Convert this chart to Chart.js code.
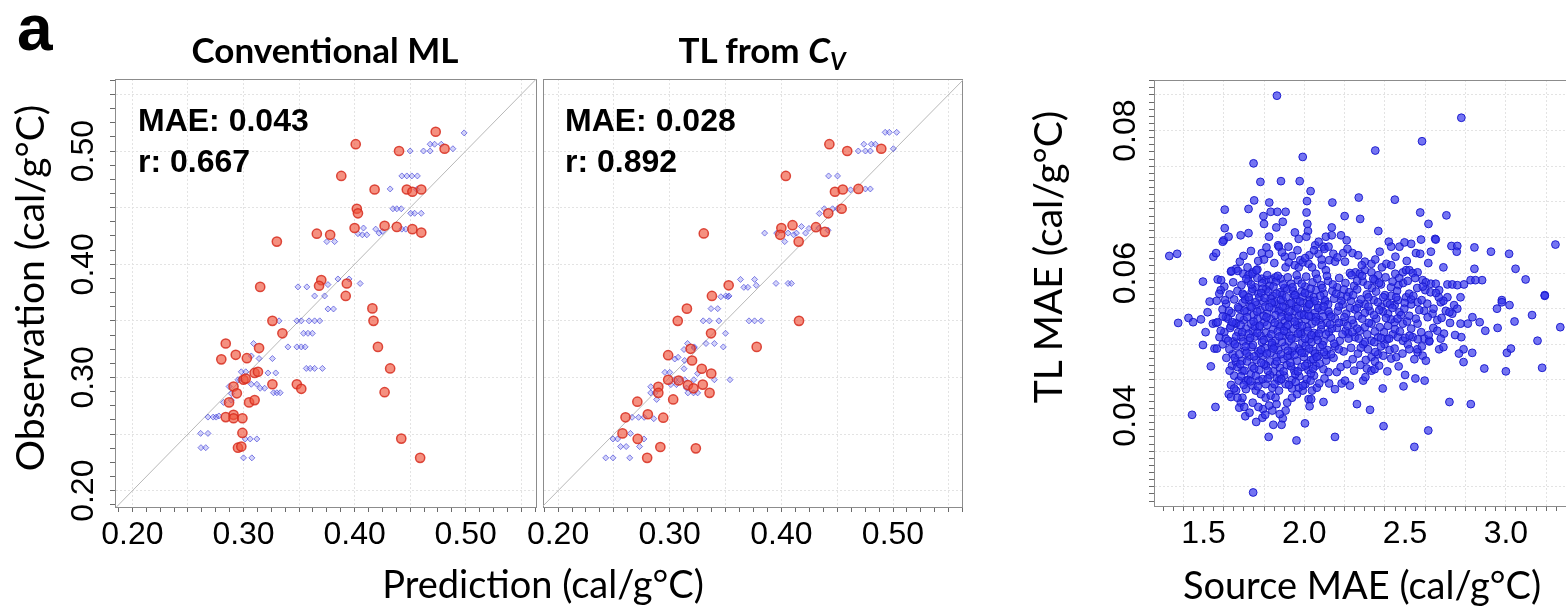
<!DOCTYPE html>
<html><head><meta charset="utf-8">
<script src="https://cdn.jsdelivr.net/npm/chart.js@4.4.1/dist/chart.umd.min.js"></script>
<style>
html,body{margin:0;padding:0;background:#fff;overflow:hidden;}
#wrap{position:relative;width:1566px;height:608px;overflow:hidden;background:#fff;}
canvas{position:absolute;}
.t{position:absolute;white-space:nowrap;color:#000;line-height:1;}
.cal{font-family:Lato,"Open Sans",sans-serif;}
.ari{font-family:"Liberation Sans",Arial,sans-serif;font-weight:bold;}
</style></head><body>
<div id="wrap">
<canvas id="p1" width="543" height="608" style="left:0;top:0"></canvas>
<canvas id="p2" width="526" height="608" style="left:443px;top:0"></canvas>
<canvas id="p3" width="591" height="608" style="left:1000px;top:0"></canvas>

<div class="t ari" style="left:17px;top:-4px;font-size:64px;">a</div>
<div class="t cal" style="left:125px;width:400px;text-align:center;top:32px;font-size:35px;font-weight:bold;">Conventional ML</div>
<div class="t cal" style="left:562px;width:400px;text-align:center;top:32px;font-size:35px;font-weight:bold;">TL from <i>C<sub style="font-size:24px;vertical-align:-7px;">V</sub></i></div>
<div class="t ari" style="left:138px;top:104px;font-size:32px;" id="m1a"></div>
<div class="t ari" style="left:138px;top:145px;font-size:32px;" id="m1b"></div>
<div class="t ari" style="left:565px;top:104px;font-size:32px;" id="m2a"></div>
<div class="t ari" style="left:565px;top:145px;font-size:32px;" id="m2b"></div>
<div class="t cal" style="left:243px;width:600px;text-align:center;top:564px;font-size:38px;">Prediction (cal/g°C)</div>
<div class="t cal" style="left:1062px;width:600px;text-align:center;top:565px;font-size:38px;">Source MAE (cal/g°C)</div>
<div class="t cal" style="left:-271px;width:600px;text-align:center;top:269px;font-size:39px;transform:rotate(-90deg);transform-origin:300px 19px;">Observation (cal/g°C)</div>
<div class="t cal" style="left:747px;width:600px;text-align:center;top:238px;font-size:39px;transform:rotate(-90deg);transform-origin:300px 19px;">TL MAE (cal/g°C)</div>
</div>
<script>
// ---------------- data ----------------
const panelStats = [["MAE: 0.043", "r: 0.667"], ["MAE: 0.028", "r: 0.892"]];

// Conventional ML: [prediction, observation]
const convTest = [[0.473,0.517],[0.401,0.506],[0.440,0.500],[0.481,0.502],[0.388,0.478],[0.418,0.466],[0.447,0.466],[0.452,0.464],[0.460,0.466],[0.402,0.449],[0.403,0.445],[0.366,0.427],[0.378,0.426],[0.400,0.432],[0.427,0.434],[0.438,0.433],[0.452,0.431],[0.460,0.428],[0.330,0.420],[0.315,0.380],[0.370,0.386],[0.368,0.381],[0.393,0.383],[0.392,0.372],[0.416,0.361],[0.417,0.350],[0.421,0.327],[0.432,0.308],[0.427,0.287],[0.442,0.246],[0.459,0.229],[0.326,0.350],[0.335,0.339],[0.284,0.330],[0.314,0.326],[0.293,0.320],[0.280,0.316],[0.303,0.317],[0.300,0.298],[0.302,0.299],[0.310,0.304],[0.313,0.305],[0.326,0.294],[0.348,0.294],[0.352,0.290],[0.291,0.292],[0.294,0.286],[0.287,0.278],[0.305,0.278],[0.310,0.280],[0.284,0.265],[0.291,0.267],[0.291,0.264],[0.299,0.264],[0.299,0.251],[0.295,0.238],[0.298,0.239]];
const convTrain = [[0.4986,0.516],[0.468,0.506],[0.472,0.506],[0.478,0.506],[0.4885,0.502],[0.450,0.500],[0.462,0.500],[0.468,0.500],[0.4425,0.478],[0.447,0.478],[0.4515,0.478],[0.4565,0.478],[0.432,0.4665],[0.456,0.466],[0.4345,0.449],[0.438,0.449],[0.442,0.449],[0.4505,0.445],[0.454,0.445],[0.460,0.445],[0.408,0.432],[0.403,0.427],[0.407,0.426],[0.411,0.426],[0.419,0.431],[0.422,0.4275],[0.425,0.429],[0.4425,0.431],[0.446,0.431],[0.375,0.420],[0.382,0.420],[0.349,0.380],[0.357,0.380],[0.385,0.387],[0.395,0.387],[0.405,0.383],[0.376,0.382],[0.364,0.372],[0.373,0.372],[0.376,0.3605],[0.381,0.3605],[0.332,0.350],[0.348,0.350],[0.352,0.350],[0.359,0.350],[0.364,0.350],[0.3686,0.350],[0.354,0.339],[0.358,0.339],[0.362,0.339],[0.340,0.327],[0.348,0.327],[0.352,0.327],[0.3555,0.327],[0.309,0.330],[0.326,0.3167],[0.307,0.319],[0.314,0.3167],[0.3565,0.308],[0.360,0.308],[0.364,0.308],[0.371,0.308],[0.298,0.305],[0.302,0.305],[0.322,0.304],[0.329,0.304],[0.295,0.298],[0.297,0.298],[0.307,0.294],[0.312,0.294],[0.315,0.2905],[0.319,0.2905],[0.287,0.292],[0.289,0.2858],[0.327,0.2865],[0.330,0.2865],[0.333,0.2865],[0.282,0.278],[0.289,0.280],[0.268,0.265],[0.2727,0.265],[0.2754,0.265],[0.2778,0.266],[0.2614,0.2506],[0.268,0.2506],[0.2617,0.238],[0.266,0.238],[0.3015,0.2457],[0.306,0.2457],[0.312,0.2457],[0.300,0.229],[0.3075,0.229]];

// TL from Cv: [prediction, observation]
const tlTest = [[0.443,0.506],[0.459,0.500],[0.4895,0.502],[0.404,0.478],[0.448,0.464],[0.455,0.466],[0.469,0.4665],[0.442,0.445],[0.454,0.449],[0.410,0.4345],[0.400,0.432],[0.399,0.426],[0.4155,0.420],[0.431,0.4327],[0.439,0.4286],[0.3305,0.4272],[0.3528,0.3814],[0.3378,0.372],[0.3154,0.3608],[0.3072,0.350],[0.337,0.339],[0.4158,0.350],[0.3779,0.327],[0.2986,0.3197],[0.3187,0.3253],[0.320,0.315],[0.3287,0.3077],[0.3372,0.3035],[0.2986,0.298],[0.308,0.2973],[0.3163,0.2933],[0.3213,0.2904],[0.3296,0.2937],[0.3357,0.2864],[0.2898,0.2918],[0.2898,0.2864],[0.3031,0.2806],[0.271,0.2786],[0.2604,0.2648],[0.2804,0.2675],[0.2942,0.2645],[0.2577,0.2506],[0.2713,0.2457],[0.2916,0.2386],[0.3234,0.2374],[0.2798,0.229]];
const tlTrain = [[0.493,0.5165],[0.4967,0.5165],[0.5033,0.5165],[0.4739,0.506],[0.4806,0.506],[0.4842,0.506],[0.4689,0.500],[0.4753,0.500],[0.4797,0.500],[0.5003,0.502],[0.4423,0.478],[0.4503,0.478],[0.462,0.4657],[0.4753,0.4665],[0.4797,0.4665],[0.434,0.4448],[0.4385,0.449],[0.4459,0.449],[0.4503,0.449],[0.385,0.4275],[0.3958,0.4275],[0.406,0.4275],[0.4135,0.4275],[0.4217,0.4275],[0.418,0.4333],[0.4247,0.4316],[0.403,0.420],[0.411,0.426],[0.4418,0.430],[0.4335,0.432],[0.3634,0.3866],[0.3664,0.3796],[0.370,0.3796],[0.376,0.3866],[0.3775,0.3814],[0.3952,0.3831],[0.406,0.3831],[0.409,0.3831],[0.3502,0.372],[0.3531,0.372],[0.3458,0.3713],[0.3522,0.3713],[0.337,0.3608],[0.343,0.3608],[0.330,0.350],[0.3355,0.350],[0.344,0.350],[0.371,0.350],[0.376,0.350],[0.382,0.350],[0.350,0.339],[0.316,0.330],[0.322,0.327],[0.3325,0.330],[0.340,0.330],[0.348,0.327],[0.3128,0.3247],[0.322,0.326],[0.3045,0.3163],[0.3075,0.3178],[0.3134,0.315],[0.2957,0.3045],[0.300,0.3045],[0.3128,0.3077],[0.3045,0.298],[0.309,0.298],[0.3134,0.298],[0.3216,0.298],[0.325,0.3035],[0.340,0.298],[0.354,0.298],[0.301,0.2937],[0.306,0.2937],[0.315,0.2907],[0.283,0.2918],[0.283,0.2864],[0.2868,0.2864],[0.2883,0.2806],[0.3163,0.2864],[0.3213,0.2864],[0.325,0.2864],[0.2663,0.2648],[0.2721,0.2648],[0.2771,0.2648],[0.2857,0.2636],[0.2648,0.2506],[0.2492,0.2457],[0.2533,0.2457],[0.2769,0.2457],[0.256,0.239],[0.261,0.239],[0.273,0.239],[0.2427,0.229],[0.2492,0.229],[0.2642,0.229]];

const identityLine = [[0.15,0.15],[0.60,0.60]];

// TL MAE vs Source MAE: [source MAE, TL MAE]
const tlVsSource = [
[1.864,0.0849],[2.779,0.0818],[2.584,0.0785],[2.352,0.0772],[1.992,0.0763],[1.748,0.0754],[1.782,0.0728],[1.884,0.0729],[1.977,0.0729],[2.031,0.0715],[1.751,0.0702],[1.826,0.0699],[2.013,0.0701],[2.139,0.0699],[2.270,0.0706],[2.449,0.0703],[1.605,0.0689],[1.723,0.0690],[1.833,0.0686],[1.866,0.0686],[1.907,0.0686],[1.797,0.0680],[2.011,0.0685],[2.200,0.0680],[2.277,0.0676],[2.575,0.0685],[2.705,0.0681],[1.800,0.0669],[1.893,0.0672],[2.015,0.0669],[2.616,0.0669],[1.605,0.0663],[1.861,0.0664],[2.018,0.0659],[2.136,0.0664],[2.367,0.0659],[2.649,0.0648],
[1.600,0.0646],[1.624,0.0651],[1.684,0.0653],[1.723,0.0656],[1.825,0.0651],[1.870,0.0639],[1.953,0.0657],[1.972,0.0648],[2.010,0.0651],[2.054,0.0639],[2.071,0.0644],[2.107,0.0651],[2.136,0.0653],[2.095,0.0637],[2.182,0.0653],[2.210,0.0646],[1.330,0.0624],[1.369,0.0627],[1.549,0.0623],[1.562,0.0628],[1.595,0.0644],[1.680,0.0616],[1.636,0.0602],[1.661,0.0606],[1.718,0.0608],[1.743,0.0601],[1.767,0.0605],[1.789,0.0628],[1.825,0.0627],[1.800,0.0619],[1.874,0.0637],[1.903,0.0623],[1.939,0.0624],[1.980,0.0618],[2.025,0.0625],[2.070,0.0627],[2.100,0.0634],[2.120,0.0637],[2.144,0.0627],[2.239,0.0628],[2.267,0.0625],[2.300,0.0616],[2.333,0.0613],[2.374,0.0630],[2.419,0.0644],[2.431,0.0637],[2.472,0.0637],[2.497,0.0643],[2.530,0.0641],[2.579,0.0647],[2.652,0.0647],[2.554,0.0628],[2.575,0.0627],[2.628,0.0630],[2.730,0.0638],[2.759,0.0638],[2.756,0.0630],[2.844,0.0636],[2.926,0.0630],[3.016,0.0627],[3.246,0.0640],[2.844,0.0606],[3.048,0.0606],
[1.638,0.0603],[1.670,0.0603],[1.697,0.0599],[1.723,0.0597],[1.743,0.0599],[1.762,0.0604],[1.789,0.0592],[1.808,0.0590],[1.833,0.0591],[1.857,0.0594],[1.882,0.0592],[1.907,0.0608],[1.923,0.0615],[1.952,0.0611],[1.972,0.0608],[1.992,0.0615],[2.021,0.0613],[2.038,0.0608],[2.057,0.0599],[2.087,0.0611],[2.107,0.0604],[2.123,0.0618],[2.152,0.0616],[2.193,0.0628],[2.202,0.0616],[2.226,0.0600],[2.254,0.0601],[2.275,0.0599],[2.300,0.0604],[2.333,0.0601],[2.349,0.0590],[2.366,0.0597],[2.385,0.0608],[2.407,0.0613],[2.431,0.0611],[2.451,0.0599],[2.467,0.0583],[2.489,0.0601],[2.505,0.0604],[2.521,0.0604],[2.538,0.0600],[2.562,0.0601],[2.587,0.0590],[2.603,0.0587],[2.628,0.0585],[2.652,0.0585],[2.669,0.0576],[2.710,0.0584],[2.734,0.0584],[2.759,0.0583],[2.792,0.0584],[2.825,0.0590],[2.882,0.0590],[2.849,0.0590],[2.980,0.0562],[3.098,0.0591],[3.193,0.0569],[1.497,0.0588],[1.570,0.0591],[1.587,0.0590],
[1.374,0.0530],[1.425,0.0537],[1.448,0.0531],[1.530,0.0560],[1.510,0.0517],[1.546,0.0529],[1.562,0.0530],[1.497,0.0499],[1.554,0.0494],[1.566,0.0494],[1.536,0.0469],[1.611,0.0538],[1.636,0.0526],[1.661,0.0529],[1.603,0.0517],[1.579,0.0510],[1.595,0.0500],[1.644,0.0486],[1.641,0.0470],[1.652,0.0456],[1.636,0.0443],[1.625,0.0430],[1.636,0.0426],[1.661,0.0435],[1.685,0.0418],[1.707,0.0399],[1.677,0.0411],[1.693,0.0425],[1.710,0.0437],[1.743,0.0442],[1.759,0.0435],[1.784,0.0430],[1.808,0.0425],[1.833,0.0428],[1.857,0.0425],[1.874,0.0435],[1.893,0.0396],[1.841,0.0407],[1.795,0.0409],[1.761,0.0391],[1.792,0.0397],[1.846,0.0387],[1.887,0.0387],[1.907,0.0407],[1.915,0.0418],[1.939,0.0425],[1.964,0.0430],[1.992,0.0435],[2.021,0.0423],[2.034,0.0423],[2.038,0.0435],[2.062,0.0439],[2.005,0.0444],[1.972,0.0439],[1.939,0.0438],[1.907,0.0444],[1.874,0.0449],[1.841,0.0439],[1.808,0.0444],[1.775,0.0449],[1.734,0.0458],[1.710,0.0449],[1.674,0.0449],[1.693,0.0463],[1.661,0.0475],
[2.123,0.0445],[2.152,0.0437],[2.161,0.0461],[2.185,0.0445],[2.202,0.0449],[2.226,0.0442],[2.292,0.0449],[2.303,0.0454],[2.310,0.0466],[2.333,0.0463],[2.349,0.0465],[2.389,0.0438],[2.492,0.0441],[2.500,0.0457],[2.551,0.0452],[2.597,0.0449],[2.431,0.0480],[2.456,0.0482],[2.423,0.0492],[2.398,0.0500],[2.366,0.0486],[2.333,0.0482],[2.316,0.0493],[2.292,0.0500],[2.333,0.0505],[2.366,0.0510],[2.395,0.0517],[2.439,0.0514],[2.464,0.0510],[2.489,0.0505],[2.513,0.0500],[2.538,0.0510],[2.562,0.0489],[2.587,0.0484],[2.603,0.0477],[2.546,0.0479],[2.595,0.0508],[2.620,0.0505],[2.669,0.0493],[2.690,0.0496],[2.693,0.0515],[2.748,0.0513],[2.779,0.0510],[2.677,0.0508],[2.790,0.0493],[2.767,0.0487],[2.833,0.0488],[2.790,0.0475],[2.893,0.0466],[3.000,0.0462],[3.180,0.0467],[3.157,0.0505],[3.005,0.0488],[3.025,0.0494],[2.898,0.0519],[2.959,0.0523],[3.043,0.0532],[3.130,0.0541],[3.270,0.0524],[3.193,0.0568],[2.980,0.0559],[3.018,0.0555],[2.956,0.0550],[2.834,0.0538],[2.811,0.0529],[2.775,0.0529],[2.723,0.0530],[2.636,0.0543],[2.641,0.0550],[2.677,0.0559],[2.710,0.0566],[2.743,0.0555],[2.775,0.0566],[2.759,0.0550],[2.702,0.0547],[2.734,0.0543],[2.595,0.0547],[2.562,0.0559],[2.530,0.0556],[2.505,0.0566],[2.472,0.0545],[2.448,0.0555],[2.415,0.0543],[2.382,0.0553],[2.357,0.0536],[2.325,0.0547],[2.300,0.0556],[2.267,0.0540],[2.243,0.0529],[2.218,0.0515],[2.251,0.0510],[2.275,0.0519],[2.300,0.0524],[2.333,0.0529],[2.374,0.0524],[2.415,0.0526],[2.448,0.0531],[2.489,0.0529],[2.530,0.0522],[2.562,0.0529],[2.464,0.0562],[2.431,0.0568],
[1.603,0.0581],[1.647,0.0587],[1.688,0.0583],[1.722,0.0589],[1.756,0.0580],[1.791,0.0586],[1.828,0.0582],[1.859,0.0588],[1.901,0.0579],[1.934,0.0585],[1.968,0.0590],[2.004,0.0581],[2.041,0.0587],[2.083,0.0583],[2.118,0.0589],[2.163,0.0580],[2.204,0.0586],[2.247,0.0582],[2.29,0.0588],[2.336,0.0579],[2.38,0.0584],[2.43,0.0580],[2.49,0.0586],[2.56,0.0579],
[1.585,0.0576],[1.629,0.0570],[1.668,0.0575],[1.701,0.0569],[1.739,0.0574],[1.772,0.0571],[1.810,0.0577],[1.843,0.0568],[1.879,0.0573],[1.915,0.0578],[1.949,0.0569],[1.986,0.0574],[2.022,0.0570],[2.058,0.0576],[2.097,0.0571],[2.139,0.0575],[2.181,0.0568],[2.222,0.0573],[2.262,0.0577],[2.31,0.0570],[2.356,0.0574],[2.40,0.0569],[2.46,0.0575],[2.52,0.0571],[2.6,0.0576],
[1.565,0.0561],[1.612,0.0557],[1.652,0.0563],[1.693,0.0558],[1.728,0.0562],[1.762,0.0555],[1.797,0.0560],[1.833,0.0564],[1.866,0.0556],[1.894,0.0561],[1.927,0.0557],[1.961,0.0563],[1.995,0.0558],[2.029,0.0562],[2.066,0.0555],[2.104,0.0560],[2.147,0.0564],[2.19,0.0556],[2.231,0.0561],[2.272,0.0557],[2.345,0.0562],[2.41,0.0558],[2.53,0.0563],[2.61,0.0557],[2.69,0.0561],
[1.52,0.0545],[1.594,0.0549],[1.638,0.0544],[1.676,0.0550],[1.715,0.0546],[1.749,0.0541],[1.781,0.0548],[1.815,0.0543],[1.848,0.0550],[1.884,0.0545],[1.917,0.0540],[1.952,0.0547],[1.983,0.0543],[2.016,0.0549],[2.052,0.0544],[2.087,0.0548],[2.124,0.0542],[2.166,0.0547],[2.208,0.0543],[2.25,0.0549],[2.30,0.0544],[2.39,0.0546],[2.48,0.0541],[2.57,0.0548],[2.72,0.0545],
[1.487,0.0535],[1.57,0.0531],[1.621,0.0536],[1.66,0.0530],[1.699,0.0534],[1.735,0.0529],[1.768,0.0536],[1.802,0.0531],[1.837,0.0535],[1.871,0.0528],[1.903,0.0533],[1.937,0.0537],[1.972,0.0530],[2.006,0.0535],[2.039,0.0529],[2.075,0.0534],[2.112,0.0530],[2.153,0.0536],[2.195,0.0531],[2.236,0.0534],[2.32,0.0530],[2.43,0.0535],[2.51,0.0532],[2.66,0.0534],[2.87,0.0531],
[1.585,0.0519],[1.632,0.0523],[1.672,0.0517],[1.709,0.0522],[1.744,0.0518],[1.776,0.0524],[1.809,0.0516],[1.845,0.0521],[1.88,0.0525],[1.912,0.0517],[1.946,0.0522],[1.979,0.0518],[2.013,0.0524],[2.047,0.0516],[2.083,0.0521],[2.122,0.0517],[2.162,0.0523],[2.205,0.0519],[2.262,0.0522],[2.35,0.0518],[2.45,0.0521],[2.58,0.0517],[2.64,0.0523],
[1.61,0.0508],[1.648,0.0504],[1.686,0.0510],[1.723,0.0505],[1.757,0.0511],[1.79,0.0503],[1.823,0.0509],[1.857,0.0505],[1.889,0.0512],[1.922,0.0504],[1.957,0.0509],[1.99,0.0502],[2.024,0.0507],[2.059,0.0511],[2.095,0.0504],[2.133,0.0509],[2.176,0.0505],[2.22,0.0508],[2.3,0.0503],[2.41,0.0507],[2.5,0.0509],[2.62,0.0504],
[1.628,0.0493],[1.667,0.0497],[1.704,0.0491],[1.738,0.0496],[1.771,0.0490],[1.804,0.0495],[1.838,0.0499],[1.871,0.0492],[1.904,0.0497],[1.939,0.0490],[1.972,0.0494],[2.007,0.0498],[2.042,0.0491],[2.078,0.0496],[2.114,0.0492],[2.152,0.0497],[2.195,0.0490],[2.28,0.0495],[2.38,0.0497],[2.56,0.0493],
[1.655,0.0481],[1.69,0.0477],[1.727,0.0483],[1.762,0.0478],[1.795,0.0484],[1.828,0.0476],[1.862,0.0482],[1.896,0.0479],[1.928,0.0485],[1.963,0.0477],[1.998,0.0482],[2.034,0.0478],[2.07,0.0484],[2.108,0.0477],[2.145,0.0481],[2.24,0.0479],[2.35,0.0476],
[1.668,0.0468],[1.703,0.0463],[1.741,0.0469],[1.776,0.0464],[1.81,0.0470],[1.846,0.0462],[1.879,0.0467],[1.913,0.0471],[1.95,0.0463],[1.986,0.0468],[2.02,0.0464],[2.057,0.0470],[2.095,0.0465],[2.18,0.0468],
[1.686,0.0455],[1.722,0.0450],[1.759,0.0456],[1.793,0.0451],[1.829,0.0457],[1.865,0.0452],[1.9,0.0456],[1.938,0.0450],[1.975,0.0455],[2.012,0.0451],[2.048,0.0456],[2.1,0.0452],
[1.742,0.0578],[1.776,0.0566],[1.806,0.0553],[1.821,0.0574],[1.852,0.0559],[1.873,0.0547],[1.889,0.0569],[1.907,0.0551],[1.921,0.0538],[1.944,0.0575],[1.958,0.0553],[1.975,0.0541],[1.991,0.0567],[2.012,0.0552],[2.033,0.0539],[2.047,0.0566],[2.068,0.0551],[2.085,0.0527],[2.102,0.0562],[2.12,0.0546],[2.137,0.0522],[1.754,0.0525],[1.783,0.0512],[1.815,0.0527],[1.836,0.0514],[1.852,0.0497],[1.868,0.0518],[1.889,0.0503],[1.91,0.0525],[1.928,0.0512],[1.947,0.0497],[1.963,0.0527],[1.984,0.0514],[2.001,0.0488],[2.018,0.0519],[2.036,0.0503],[2.053,0.0487],[2.072,0.0515],[2.09,0.0499],[2.108,0.0485],[2.014,0.0473],[2.032,0.0459],[2.045,0.0479],[1.723,0.0515],[1.731,0.0553],[1.706,0.0563],[1.68,0.0538],[1.662,0.0511],[1.697,0.0504],[1.713,0.0488],[1.745,0.0499],[1.776,0.0487],[1.801,0.0472],[1.832,0.0488],[1.855,0.0472],[1.88,0.0458],[1.916,0.0483],[1.934,0.0469],[1.955,0.0458],[1.978,0.0491],
[1.712,0.0592],[1.736,0.0584],[1.767,0.0593],[1.793,0.0578],[1.816,0.0597],[1.847,0.0581],[1.868,0.0596],[1.895,0.0584],[1.918,0.0594],[1.941,0.0580],[1.962,0.0597],[1.987,0.0585],[2.009,0.0595],[2.031,0.0578],[2.064,0.0592],[2.089,0.0579],[2.112,0.0596],[2.141,0.0584],[2.173,0.0593],[2.196,0.0577],
[1.694,0.0571],[1.724,0.0566],[1.757,0.0559],[1.786,0.0572],[1.803,0.0565],[1.838,0.0558],[1.862,0.0571],[1.884,0.0562],[1.911,0.0566],[1.936,0.0558],[1.954,0.0569],[1.979,0.0560],[2.003,0.0572],[2.026,0.0557],[2.051,0.0561],[2.079,0.0568],[2.118,0.0556],[2.158,0.0571],[2.184,0.0561],[2.213,0.0567],
[1.671,0.0552],[1.703,0.0547],[1.738,0.0552],[1.766,0.0546],[1.798,0.0540],[1.826,0.0552],[1.857,0.0541],[1.892,0.0553],[1.926,0.0546],[1.967,0.0550],[1.999,0.0541],[2.024,0.0556],[2.058,0.0538],[2.096,0.0553],[2.133,0.0539],[2.172,0.0553],[2.199,0.0538],[2.227,0.0551],
[1.643,0.0531],[1.684,0.0527],[1.716,0.0538],[1.748,0.0532],[1.779,0.0526],[1.812,0.0538],[1.853,0.0530],[1.886,0.0539],[1.918,0.0527],[1.952,0.0532],[1.989,0.0526],[2.022,0.0540],[2.056,0.0532],[2.093,0.0539],[2.128,0.0528],[2.171,0.0530],[2.214,0.0526],
[1.655,0.0500],[1.692,0.0517],[1.731,0.0509],[1.767,0.0516],[1.798,0.0506],[1.839,0.0502],[1.876,0.0511],[1.899,0.0519],[1.936,0.0508],[1.969,0.0515],[2.003,0.0508],[2.035,0.0513],[2.066,0.0506],[2.107,0.0514],[2.148,0.0501],[2.189,0.0514],
[1.678,0.0486],[1.709,0.0497],[1.751,0.0483],[1.786,0.0492],[1.814,0.0487],[1.847,0.0494],[1.883,0.0486],[1.918,0.0491],[1.952,0.0485],[1.987,0.0488],[2.024,0.0494],[2.061,0.0482],[2.097,0.0489],[2.133,0.0486],[2.171,0.0493],
[1.682,0.0472],[1.716,0.0476],[1.751,0.0466],[1.786,0.0474],[1.819,0.0463],[1.863,0.0476],[1.897,0.0462],[1.931,0.0474],[1.968,0.0462],[2.004,0.0470],[2.043,0.0466],[2.076,0.0473],[2.12,0.0461],
[1.699,0.0443],[1.733,0.0448],[1.769,0.0441],[1.818,0.0452],[1.852,0.0444],[1.886,0.0451],[1.924,0.0443],[1.957,0.0447],[1.993,0.0442],[2.031,0.0449],[2.074,0.0445],
[2.234,0.0597],[2.262,0.0589],[2.287,0.0596],[2.314,0.0583],[2.342,0.0592],[2.371,0.0586],[2.403,0.0594],[2.438,0.0588],[2.471,0.0593],[2.513,0.0589],[2.55,0.0593],[2.588,0.0581],[2.626,0.0573],[2.667,0.0566],
[2.242,0.0569],[2.281,0.0563],[2.318,0.0566],[2.365,0.0559],[2.392,0.0566],[2.425,0.0556],[2.456,0.0566],[2.498,0.0558],[2.541,0.0568],[2.582,0.0562],[2.653,0.0572],
[2.262,0.0551],[2.287,0.0536],[2.318,0.0553],[2.346,0.0541],[2.372,0.0548],[2.405,0.0537],[2.437,0.0551],[2.462,0.0536],[2.496,0.0550],[2.521,0.0540],[2.553,0.0536],[2.612,0.0538],[2.681,0.0537],
[2.238,0.0517],[2.27,0.0508],[2.312,0.0514],[2.347,0.0503],[2.381,0.0509],[2.421,0.0508],[2.474,0.0518],[2.522,0.0512],[2.563,0.0507],[2.617,0.0513],[2.66,0.0519],
[2.232,0.0495],[2.266,0.0487],[2.305,0.0478],[2.352,0.0489],[2.392,0.0484],[2.448,0.0494],[2.487,0.0487],[2.521,0.0493],[2.583,0.0497],
[2.212,0.0472],[2.247,0.0463],[2.278,0.0471],[2.371,0.0470],[2.412,0.0462],[2.468,0.0469],
[1.698,0.0624],[1.735,0.0631],[1.771,0.0617],[1.812,0.0636],[1.851,0.0614],[1.889,0.0629],[1.921,0.0637],[1.966,0.0632],[2.004,0.0621],[2.048,0.0632],[2.086,0.0619],[2.164,0.0622],[2.214,0.0634],[2.285,0.0611],[2.352,0.0619],[2.452,0.0623],[2.508,0.0617],[2.615,0.0614],[2.69,0.0608],
[1.578,0.0571],[1.607,0.0562],[1.626,0.0547],[1.595,0.0539],[1.622,0.0505],[1.613,0.0481],[1.629,0.0463],[1.652,0.0438],[1.668,0.0425],[1.702,0.0412],[1.728,0.0404],[1.744,0.0418],[1.772,0.0412],[1.806,0.0401],[1.825,0.0414],[1.862,0.0416],[1.878,0.0402],
[1.746,0.0292],[2.546,0.0356],[1.961,0.0365],[1.823,0.0370],[2.152,0.0370],[2.615,0.0379],[2.393,0.0385],[2.003,0.0389],[1.443,0.0401],[1.559,0.0412],[2.261,0.0416],[2.326,0.0408],[2.720,0.0419],[2.826,0.0416],[2.095,0.0419],[2.026,0.0413]
];

// ---------------- helpers ----------------
document.getElementById('m1a').textContent = panelStats[0][0];
document.getElementById('m1b').textContent = panelStats[0][1];
document.getElementById('m2a').textContent = panelStats[1][0];
document.getElementById('m2b').textContent = panelStats[1][1];

const TICK_FONT = {family:'"Liberation Sans", Arial, sans-serif', size:32};
const GRID_C = '#e3e3e3', AXIS_C = '#8c8c8c', TICK_C = '#6a6a6a';
function isMult(v, m){ const r = v / m; return Math.abs(r - Math.round(r)) < 1e-6; }
function range(a, b, s){ const o = []; const n = Math.round((b - a) / s); for (let i = 0; i <= n; i++) o.push(+(a + i * s).toFixed(6)); return o; }
const pts = arr => arr.map(p => ({x: p[0], y: p[1]}));

function axis(o){
  const vert = (o.pos === 'left' || o.pos === 'right');
  return {
    type:'linear', position:o.pos, min:o.min, max:o.max,
    afterBuildTicks: s => { s.ticks = range(o.t0, o.t1, o.ts).map(v => ({value:v})); },
    afterFit: s => { if (vert) s.width = o.size; else s.height = o.size; },
    ticks: {display: !!o.labelEvery, autoSkip:false, padding:o.pad || 0, color:'#000', font:TICK_FONT,
      minRotation: vert ? 90 : 0, maxRotation: vert ? 90 : 0, crossAlign: vert ? 'center' : 'near',
      callback: v => (o.labelEvery && isMult(v, o.labelEvery)) ? v.toFixed(o.digits) : ''},
    grid: {display:true, drawOnChartArea:true, drawTicks: !!o.ticksOn, tickLength:5, tickColor:TICK_C, tickWidth:1, lineWidth:1,
      color: c => (c.tick && isMult(c.tick.value, o.gridEvery)) ? GRID_C : 'rgba(0,0,0,0)'},
    border: {display:true, color:AXIS_C, width:1, dash:[2,2]}
  };
}
function frame(pos, min, max){
  return {type:'linear', position:pos, min:min, max:max,
    afterFit: s => { if (pos === 'right') s.width = 0; else s.height = 0; },
    ticks:{display:false}, grid:{display:false, drawTicks:false},
    border:{display:true, color:AXIS_C, width:1}};
}

const redStyle = {backgroundColor:'rgba(240,85,60,0.65)', borderColor:'rgba(215,45,30,0.85)', borderWidth:1.5, pointRadius:4.6, pointStyle:'circle'};
const blueStyle = {backgroundColor:'rgba(110,110,235,0.3)', borderColor:'rgba(55,55,215,0.62)', borderWidth:1, pointRadius:3, pointStyle:'rectRot'};
const lineStyle = {showLine:true, borderColor:'#b8b8b8', borderWidth:1, pointRadius:0, fill:false};

function scatterPanel(id, test, train, xr, yr, yLabels, ySize){
  return new Chart(document.getElementById(id), {
    type:'scatter',
    data:{datasets:[
      Object.assign({data:pts(test), order:1}, redStyle),
      Object.assign({data:pts(train), order:2}, blueStyle),
      Object.assign({data:pts(identityLine), order:3}, lineStyle)
    ]},
    options:{
      responsive:false, animation:false, events:[],
      layout:{padding:{top:79, right:1, left:0, bottom:0}},
      plugins:{legend:{display:false}, tooltip:{enabled:false}},
      scales:{
        x: axis({pos:'bottom', min:xr[0], max:xr[1], t0:0.1875, t1:0.5625, ts:0.0125, gridEvery:0.05, labelEvery:0.1, digits:2, size:101, pad:4, ticksOn:true}),
        y: axis({pos:'left', min:yr[0], max:yr[1], t0:0.1875, t1:0.5625, ts:0.0125, gridEvery:0.05, labelEvery: yLabels ? 0.1 : 0, digits:2, size:ySize, pad:-5, ticksOn:yLabels}),
        xTop: frame('top', xr[0], xr[1]),
        yRight: frame('right', yr[0], yr[1])
      }
    }
  });
}

scatterPanel('p1', convTest, convTrain, [0.1843, 0.5641], [0.1856, 0.5636], true, 115);
scatterPanel('p2', tlTest, tlTrain, [0.1865, 0.5626], [0.1856, 0.5636], false, 100);

new Chart(document.getElementById('p3'), {
  type:'scatter',
  data:{datasets:[{data:pts(tlVsSource), backgroundColor:'rgba(50,50,236,0.68)', borderColor:'rgba(25,25,205,0.95)', borderWidth:1, pointRadius:3.9}]},
  options:{
    responsive:false, animation:false, events:[],
    layout:{padding:{top:80, right:1, left:0, bottom:0}},
    plugins:{legend:{display:false}, tooltip:{enabled:false}},
    scales:{
      x: axis({pos:'bottom', min:1.254, max:3.3976, t0:1.3, t1:3.35, ts:0.05, gridEvery:0.2, labelEvery:0.5, digits:1, size:102, pad:4, ticksOn:true}),
      y: axis({pos:'left', min:0.0273, max:0.0871, t0:0.028, t1:0.087, ts:0.001, gridEvery:0.005, labelEvery:0.02, digits:2, size:154, pad:-8, ticksOn:true}),
      xTop: frame('top', 1.254, 3.3976)
    }
  }
});
</script>
</body></html>
